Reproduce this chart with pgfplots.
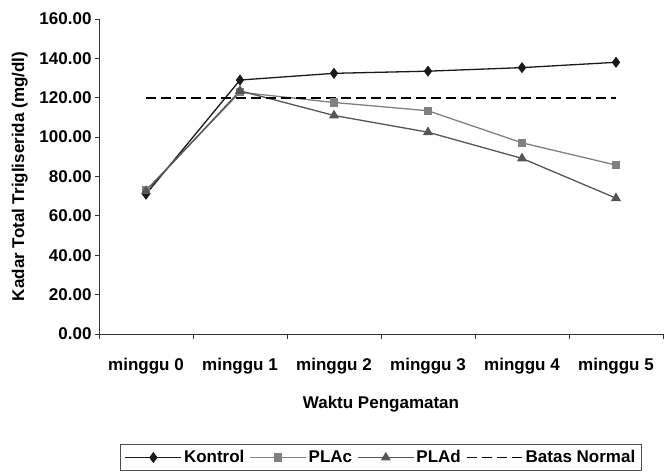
\documentclass[border=0pt]{standalone}
\usepackage{pgfplots}
\pgfplotsset{compat=1.18}
\usepackage{fontspec}
\setmainfont{Liberation Sans}

\definecolor{ctrl}{HTML}{1A1A1A}
\definecolor{plac}{HTML}{808080}
\definecolor{plad}{HTML}{555555}
\newcommand{\chartfont}{\fontsize{17}{19}\selectfont\bfseries}

\begin{document}
\begin{tikzpicture}[font=\chartfont]
\useasboundingbox (0,0) rectangle (670pt,474pt);
\begin{axis}[
  at={(99pt,140pt)}, anchor=south west,
  scale only axis,
  width=564pt, height=315pt,
  axis x line=bottom, axis y line=left,
  axis line style={-, line width=0.8pt, black!80},
  xmin=-0.5, xmax=5.5,
  ymin=0, ymax=160,
  xtick={0,...,5},
  xticklabels={minggu 0,minggu 1,minggu 2,minggu 3,minggu 4,minggu 5},
  major x tick style={draw=none},
  minor xtick={-0.5,0.5,...,5.5},
  minor tick length=5pt,
  minor x tick style={black!80, line width=0.8pt},
  ytick={0,20,...,160},
  major tick length=4pt,
  y tick style={black!80, line width=0.8pt},
  tick align=outside,
  tick label style={font=\chartfont},
  label style={font=\chartfont},
  yticklabel={\pgfmathprintnumber[fixed,fixed zerofill,precision=2]{\tick}},
  /pgf/number format/assume math mode=true,
  xticklabel style={yshift=-17pt},
  xlabel={Waktu Pengamatan},
  xlabel style={yshift=-15pt},
  ylabel={Kadar Total Trigliserida (mg/dl)},
  ylabel style={yshift=5pt},
  legend columns=4,
  legend style={at={(0.5,-0.35)}, anchor=north, draw=black!70, line width=0.8pt,
    inner sep=4pt, font=\chartfont,
    /tikz/every even column/.append style={column sep=3pt}},
  legend image code/.code={\draw[mark repeat=2,mark phase=2,#1] plot coordinates {(0pt,0pt) (28pt,0pt) (56pt,0pt)};},
]
\addplot[color=ctrl, line width=1.3pt, mark=diamond*, mark size=4.5pt, mark options={solid, fill=ctrl}]
  coordinates {(0,71.0) (1,129.0) (2,132.4) (3,133.5) (4,135.3) (5,138.0)};
\addlegendentry{Kontrol}
\addplot[color=plac, line width=1.3pt, mark=square*, mark size=3.5pt, mark options={solid, fill=plac}]
  coordinates {(0,73.0) (1,122.8) (2,117.6) (3,113.4) (4,97.1) (5,85.8)};
\addlegendentry{PLAc}
\addplot[color=plad, line width=1.3pt, mark=triangle*, mark size=4.5pt, mark options={solid, fill=plad}]
  coordinates {(0,72.5) (1,123.5) (2,111.0) (3,102.5) (4,89.2) (5,69.0)};
\addlegendentry{PLAd}
\addplot[black, line width=1.8pt, dash pattern=on 10pt off 5pt, no marks]
  coordinates {(0,120) (5,120)};
\addlegendentry{Batas Normal}
\end{axis}
\end{tikzpicture}
\end{document}
